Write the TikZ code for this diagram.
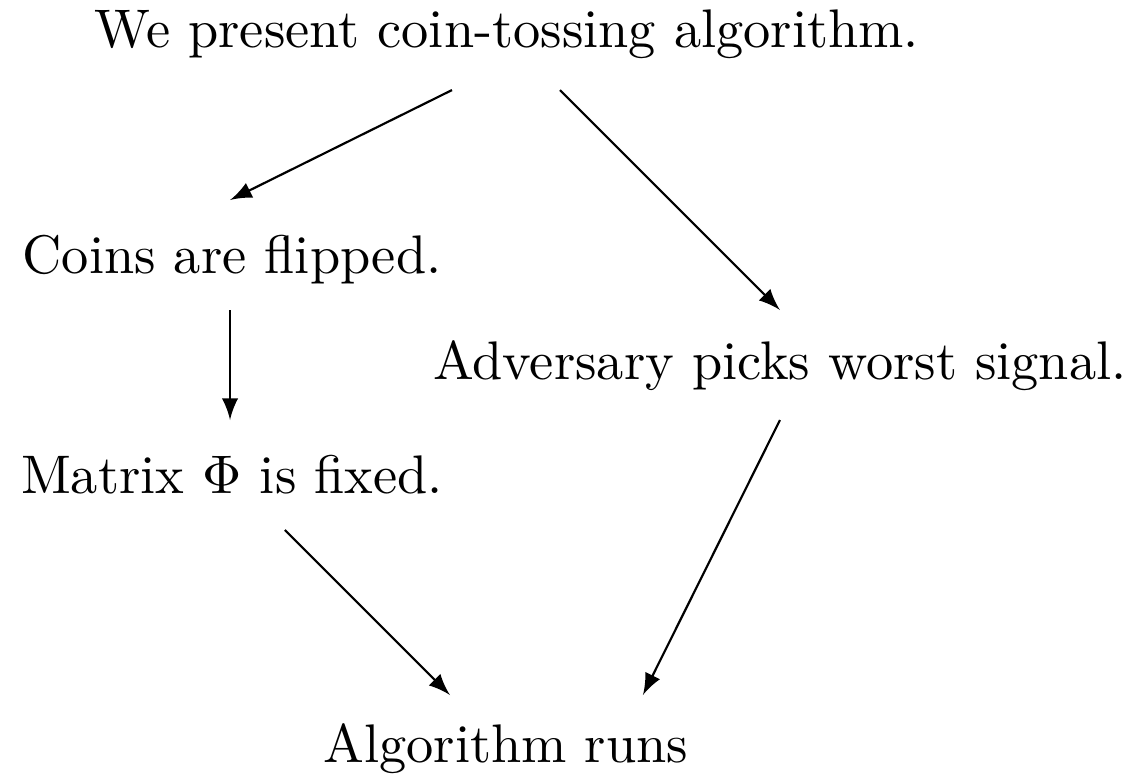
\documentclass[tikz,border=0pt]{standalone}
\usetikzlibrary{arrows}
\begin{document}
\begin{tikzpicture}[>=latex, every node/.style={anchor=base,inner sep=0pt}]
\useasboundingbox (0,0) rectangle (7.337,-5.010);
\node (present) at (3.277,-0.310) {We present coin-tossing algorithm.};
\node (coins) at (1.50,-1.771) {Coins are flipped.};
\node (adversary) at (5.042,-2.450) {Adversary picks worst signal.};
\node (matrix) at (1.50,-3.193) {Matrix $\Phi$ is fixed.};
\node (runs) at (3.27,-4.932) {Algorithm runs};
\draw [->] ([shift={(-0.355,-0.272)}]present.base)--([shift={(-0.013,0.478)}]coins.base);
\draw [->] ([shift={(0.343,-0.272)}]present.base)--([shift={(0,0.446)}]adversary.base);
\draw [->] ([shift={(-0.013,-0.233)}]coins.base)--([shift={(-0.013,0.478)}]matrix.base);
\draw [->] ([shift={(0,-0.265)}]adversary.base)--([shift={(0.886,0.439)}]runs.base);
\draw [->] ([shift={(0.342,-0.233)}]matrix.base)--([shift={(-0.361,0.439)}]runs.base);
\end{tikzpicture}
\end{document}
